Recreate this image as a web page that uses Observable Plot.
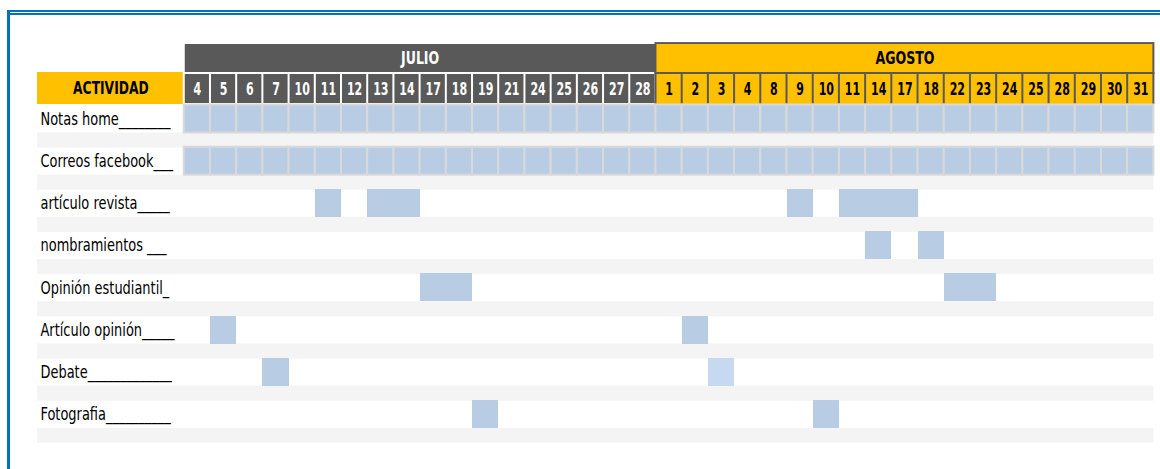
<!DOCTYPE html>
<html>
<head>
<meta charset="utf-8">
<script src="https://cdn.jsdelivr.net/npm/d3@7"></script>
<script src="https://cdn.jsdelivr.net/npm/@observablehq/plot@0.6"></script>
<style>
  html, body { margin: 0; padding: 0; background: #ffffff; }
  #wrap { position: relative; width: 1160px; height: 469px; overflow: hidden; }
  #chart { position: absolute; left: 0; top: 0; }
  .fr { position: absolute; background: #0070c0; }
</style>
</head>
<body>
<div id="wrap">
  <div id="chart"></div>
  <div class="fr" style="left:7px; top:10px; width:1153px; height:2px;"></div>
  <div class="fr" style="left:7px; top:13px; width:1153px; height:2px;"></div>
  <div class="fr" style="left:7px; top:10px; width:3px; height:459px;"></div>
</div>
<script>
// ---------- data ----------
const months = ["JULIO", "AGOSTO"];
const julioDays = [4, 5, 6, 7, 10, 11, 12, 13, 14, 17, 18, 19, 21, 24, 25, 26, 27, 28];
const agostoDays = [1, 2, 3, 4, 8, 9, 10, 11, 14, 17, 18, 22, 23, 24, 25, 28, 29, 30, 31];
const headerLabel = "ACTIVIDAD";
const activities = [
  "Notas home________",
  "Correos facebook___",
  "artículo revista_____",
  "nombramientos ___",
  "Opinión estudiantil_",
  "Artículo opinión_____",
  "Debate_____________",
  "Fotografia__________"
];
// activities scheduled on every listed day
const everyDayActivities = [activities[0], activities[1]];
// [activity, month, day]
const tasks = [
  [activities[2], "JULIO", 11],
  [activities[2], "JULIO", 13],
  [activities[2], "JULIO", 14],
  [activities[2], "AGOSTO", 9],
  [activities[2], "AGOSTO", 11],
  [activities[2], "AGOSTO", 14],
  [activities[2], "AGOSTO", 17],
  [activities[3], "AGOSTO", 14],
  [activities[3], "AGOSTO", 18],
  [activities[4], "JULIO", 17],
  [activities[4], "JULIO", 18],
  [activities[4], "AGOSTO", 22],
  [activities[4], "AGOSTO", 23],
  [activities[5], "JULIO", 5],
  [activities[5], "AGOSTO", 2],
  [activities[6], "JULIO", 7],
  [activities[6], "AGOSTO", 3],
  [activities[7], "JULIO", 19],
  [activities[7], "AGOSTO", 10]
];

// ---------- derived tables ----------
const daysByMonth = {JULIO: julioDays, AGOSTO: agostoDays};
const columns = months.flatMap(m => daysByMonth[m].map(d => ({mes: m, dia: d})));
columns.forEach((c, i) => c.i = i);
const nCols = columns.length;
const colIndex = (m, d) => columns.findIndex(c => c.mes === m && c.dia === d);
const monthSpans = months.map(m => {
  const idx = columns.filter(c => c.mes === m).map(c => c.i);
  return {mes: m, start: d3.min(idx), end: d3.max(idx) + 1};
});
const fullCells = everyDayActivities.flatMap(a => columns.map(c => ({act: a, i: c.i})));
const taskCells = tasks.map(([a, m, d]) => ({act: a, mes: m, dia: d, i: colIndex(m, d)}));

// layout
const labelCols = 5.6;           // width of the label column, in day-column units
const MES = "mes", DIA = "dia";
const yDomain = [MES, DIA, ...activities];

const DARK = "#595959", YELLOW = "#ffc000", BLUE = "#b8cce4", BLUE_LIGHT = "#c6d9f0",
      GRID = "#d9d9d9", STRIP = "#f4f4f4";
const FONT = "'DejaVu Sans Condensed', 'Liberation Sans Narrow', sans-serif";

const julio = columns.filter(c => c.mes === "JULIO");
const agosto = columns.filter(c => c.mes === "AGOSTO");
const agSpan = monthSpans.filter(s => s.mes === "AGOSTO");
const juSpan = monthSpans.filter(s => s.mes === "JULIO");

const chart = Plot.plot({
  width: 1160,
  height: 469,
  marginLeft: 37,
  marginRight: 6.6,
  marginTop: 20.1,
  marginBottom: 26.9,
  style: {fontFamily: FONT, background: "transparent", overflow: "visible"},
  x: {type: "linear", domain: [-labelCols, nCols], axis: null},
  y: {type: "band", domain: yDomain, padding: 0, round: false, axis: null},
  marks: [
    Plot.barX(activities, {x1: -labelCols, x2: nCols, y: d => d, fill: STRIP, insetTop: 28, insetBottom: -0.8}),
    Plot.barX(agSpan, {x1: "start", x2: "end", y: () => MES, fill: DARK, insetTop: 22, insetBottom: -11.7, insetLeft: -1, insetRight: -1}),
    Plot.barX(agSpan, {x1: "start", x2: "end", y: () => DIA, fill: DARK, insetTop: 9.7, insetBottom: 0.5, insetLeft: -1, insetRight: -1}),
    Plot.barX(agSpan, {x1: "start", x2: "end", y: () => MES, fill: YELLOW, insetTop: 23.9, insetBottom: -9.7, insetLeft: 1, insetRight: 1}),
    Plot.barX(agosto, {x1: "i", x2: d => d.i + 1, y: () => DIA, fill: YELLOW, insetTop: 11.7, insetBottom: 0.5, insetLeft: 1, insetRight: 1}),
    Plot.barX(juSpan, {x1: "start", x2: "end", y: () => MES, fill: DARK, insetTop: 23.9, insetBottom: -9.7, insetLeft: 1, insetRight: 0}),
    Plot.barX(julio, {x1: "i", x2: d => d.i + 1, y: () => DIA, fill: DARK, insetTop: 11.7, insetBottom: 1.5, insetLeft: 1, insetRight: 1}),
    Plot.barX([headerLabel], {x1: -labelCols, x2: 0, y: () => DIA, fill: YELLOW, insetTop: 9.7, insetBottom: 0.5, insetRight: 1}),
    Plot.barX(fullCells, {x1: "i", x2: d => d.i + 1, y: "act", fill: BLUE, stroke: GRID, strokeWidth: 2, insetBottom: 14.2}),
    Plot.barX(taskCells, {
      x1: "i", x2: d => d.i + 1, y: "act",
      fill: d => (d.act === activities[6] && d.mes === "AGOSTO") ? BLUE_LIGHT : BLUE,
      insetBottom: 14.2, shapeRendering: "crispEdges"
    }),
    Plot.text(monthSpans, {x: d => (d.start + d.end) / 2, y: () => MES, text: "mes", dy: 16.8,
      fill: d => d.mes === "JULIO" ? "#ffffff" : "#000000", fontWeight: "bold", fontSize: 17}),
    Plot.text(columns, {x: d => d.i + 0.5, y: () => DIA, text: d => String(d.dia), dy: 5.1,
      fill: d => d.mes === "JULIO" ? "#ffffff" : "#000000", fontWeight: "bold", fontSize: 18}),
    Plot.text([headerLabel], {x: -labelCols / 2, y: () => DIA, text: d => d, dy: 4.6,
      fill: "#000000", fontWeight: "bold", fontSize: 18}),
    Plot.text(activities, {x: -labelCols, y: d => d, text: d => d, dx: 3, dy: -7, textAnchor: "start",
      fill: "#000000", fontSize: 18})
  ]
});
document.getElementById("chart").appendChild(chart);

// the source picture is horizontally compressed: narrow the glyphs the same way
const squeeze = [0.82, 0.68, 0.76, 0.8]; // months, days, header, labels
const textGroups = chart.querySelectorAll('g[aria-label="text"]');
textGroups.forEach((g, gi) => {
  const k = squeeze[gi] ?? 1;
  g.querySelectorAll("text").forEach(t => {
    const len = t.getComputedTextLength();
    t.setAttribute("textLength", (len * k).toFixed(2));
    t.setAttribute("lengthAdjust", "spacingAndGlyphs");
  });
});
</script>
</body>
</html>
